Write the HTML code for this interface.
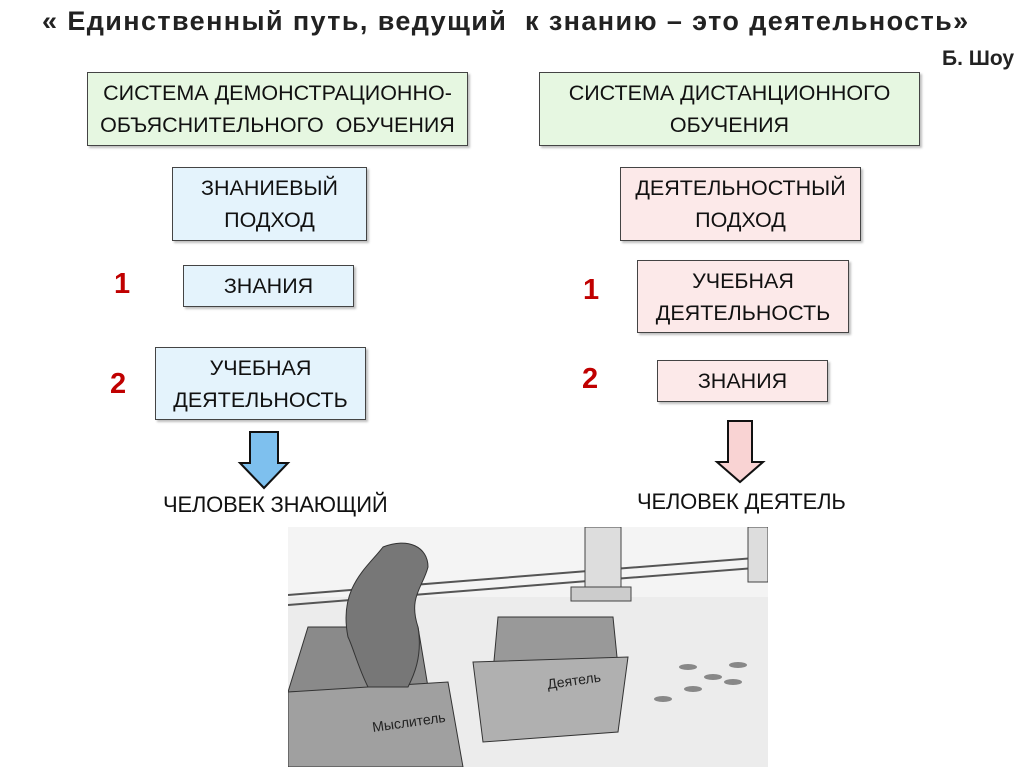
<!DOCTYPE html>
<html><head><meta charset="utf-8"><style>
body{margin:0;width:1024px;height:767px;background:#fff;position:relative;overflow:hidden;font-family:"Liberation Sans","DejaVu Sans",sans-serif;color:#111}
.t{position:absolute;white-space:nowrap}
.b{position:absolute;border:1.5px solid #444;box-sizing:border-box;display:flex;align-items:center;justify-content:center;text-align:center;font-size:21.5px;line-height:32px;box-shadow:2px 2px 2px rgba(0,0,0,.25);white-space:nowrap;letter-spacing:0px}
.g{background:#e6f7e1}.bl{background:#e4f3fc}.p{background:#fce9e9}
.n{position:absolute;color:#c00000;font-weight:bold;font-size:29px}
</style></head><body>
<div class="t" style="left:42px;top:6px;font-size:27px;font-weight:bold;color:#222;letter-spacing:1.4px">« Единственный путь, ведущий &nbsp;к знанию – это деятельность»</div>
<div class="t" style="left:942px;top:47px;font-size:21px;font-weight:bold;color:#222">Б. Шоу</div>

<div class="b g" style="left:87px;top:72px;width:381px;height:74px">СИСТЕМА ДЕМОНСТРАЦИОННО-<br>ОБЪЯСНИТЕЛЬНОГО&nbsp; ОБУЧЕНИЯ</div>
<div class="b g" style="left:539px;top:72px;width:381px;height:74px">СИСТЕМА ДИСТАНЦИОННОГО<br>ОБУЧЕНИЯ</div>

<div class="b bl" style="left:172px;top:167px;width:195px;height:74px">ЗНАНИЕВЫЙ<br>ПОДХОД</div>
<div class="b p" style="left:620px;top:167px;width:241px;height:74px">ДЕЯТЕЛЬНОСТНЫЙ<br>ПОДХОД</div>

<div class="n" style="left:114px;top:268px">1</div>
<div class="b bl" style="left:183px;top:265px;width:171px;height:42px">ЗНАНИЯ</div>
<div class="n" style="left:110px;top:368px">2</div>
<div class="b bl" style="left:155px;top:347px;width:211px;height:73px">УЧЕБНАЯ<br>ДЕЯТЕЛЬНОСТЬ</div>

<div class="n" style="left:583px;top:274px">1</div>
<div class="b p" style="left:637px;top:260px;width:212px;height:73px">УЧЕБНАЯ<br>ДЕЯТЕЛЬНОСТЬ</div>
<div class="n" style="left:582px;top:363px">2</div>
<div class="b p" style="left:657px;top:360px;width:171px;height:42px">ЗНАНИЯ</div>

<svg style="position:absolute;left:0;top:0" width="1024" height="767">
<polygon points="250,432 278,432 278,463 288,463 264,488 240,463 250,463" fill="#7ec0ee" stroke="#111" stroke-width="2"/>
<polygon points="728,421 752,421 752,462 763,462 740,482 717,462 728,462" fill="#f9d3d3" stroke="#111" stroke-width="2"/>
</svg>
<div class="t" style="left:163px;top:492px;font-size:22px;letter-spacing:-0.2px">ЧЕЛОВЕК ЗНАЮЩИЙ</div>
<div class="t" style="left:637px;top:489px;font-size:22px;letter-spacing:-0.2px">ЧЕЛОВЕК ДЕЯТЕЛЬ</div>

<svg style="position:absolute;left:288px;top:527px" width="480" height="240" viewBox="0 0 480 240">
<rect width="480" height="240" fill="#ececec"/>
<rect width="480" height="70" fill="#f4f4f4"/>
<polyline points="0,68 150,56 300,44 480,30" fill="none" stroke="#555" stroke-width="2"/>
<polyline points="0,78 150,66 300,54 480,40" fill="none" stroke="#555" stroke-width="2"/>
<rect x="297" y="0" width="36" height="60" fill="#ddd" stroke="#444"/>
<rect x="283" y="60" width="60" height="14" fill="#ccc" stroke="#444"/>
<rect x="460" y="0" width="20" height="55" fill="#ddd" stroke="#444"/>
<polygon points="20,100 130,100 140,160 0,165" fill="#8a8a8a" stroke="#333"/>
<polygon points="0,165 160,155 175,240 0,240" fill="#a0a0a0" stroke="#333"/>
<path d="M60,110 C50,60 80,40 95,20 C120,10 140,20 140,40 C135,60 120,70 130,100 C135,130 125,150 120,160 L80,160 C70,140 65,120 60,110Z" fill="#777" stroke="#333"/>
<polygon points="210,90 325,90 330,140 205,145" fill="#999" stroke="#333"/>
<polygon points="185,135 340,130 330,205 195,215" fill="#b0b0b0" stroke="#333"/>
<text x="260" y="162" font-size="14" font-family="Liberation Sans,sans-serif" fill="#222" transform="rotate(-8 260 162)">Деятель</text>
<text x="85" y="205" font-size="14" font-family="Liberation Sans,sans-serif" fill="#222" transform="rotate(-8 85 205)">Мыслитель</text>
<g fill="#888"><ellipse cx="375" cy="172" rx="9" ry="3"/><ellipse cx="405" cy="162" rx="9" ry="3"/><ellipse cx="425" cy="150" rx="9" ry="3"/><ellipse cx="450" cy="138" rx="9" ry="3"/><ellipse cx="400" cy="140" rx="9" ry="3"/><ellipse cx="445" cy="155" rx="9" ry="3"/></g>
</svg>
</body></html>
